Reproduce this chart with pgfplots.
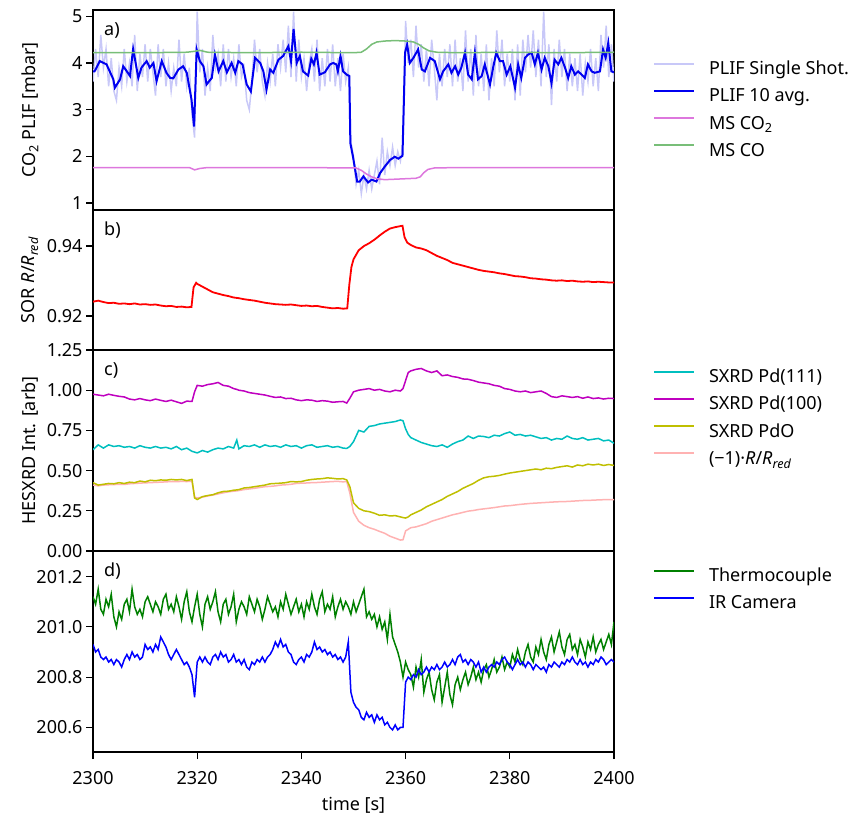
\documentclass[border=0pt]{standalone}
\usepackage{pgfplots}
\pgfplotsset{compat=1.18}
\usepackage{pgfplotstable}
\usepackage{fontspec}
\setmainfont{Noto Sans}
\definecolor{plifss}{RGB}{200,200,248}
\definecolor{plifavg}{RGB}{0,0,240}
\definecolor{msco2}{RGB}{221,119,221}
\definecolor{msco}{RGB}{120,190,120}
\definecolor{sorred}{RGB}{255,0,0}
\definecolor{pdonee}{RGB}{0,191,191}
\definecolor{pdhun}{RGB}{191,0,191}
\definecolor{pdo}{RGB}{191,191,0}
\definecolor{negr}{RGB}{255,178,178}
\definecolor{tc}{RGB}{0,128,0}
\definecolor{ir}{RGB}{0,0,255}

\pgfplotstableread{
t v
2300.0 3.6
2300.5 4.3
2301.0 3.7
2301.5 4.6
2302.0 3.9
2302.5 4.3
2303.0 3.5
2303.5 4.1
2304.0 3.4
2304.5 3.2
2305.0 3.9
2305.5 3.5
2306.0 4.3
2306.5 3.6
2307.0 4.0
2307.5 3.5
2308.0 4.6
2308.5 3.4
2309.0 4.2
2309.5 3.7
2310.0 4.4
2310.5 3.6
2311.0 4.3
2311.5 3.8
2312.0 3.3
2312.5 4.4
2313.0 3.7
2313.5 4.3
2314.0 3.5
2314.5 4.0
2315.0 3.4
2315.5 3.9
2316.0 3.5
2316.5 4.5
2317.0 3.6
2317.5 4.2
2318.0 3.5
2318.5 3.9
2319.0 2.9
2319.5 2.4
2320.0 5.1
2320.5 3.8
2321.0 4.3
2321.5 3.3
2322.0 3.9
2322.5 3.4
2323.0 4.6
2323.5 3.9
2324.0 4.2
2324.5 3.5
2325.0 4.4
2325.5 3.6
2326.0 4.3
2326.5 3.7
2327.0 4.1
2327.5 3.5
2328.0 4.4
2328.5 3.7
2329.0 3.9
2329.5 3.2
2330.0 3.0
2330.5 3.6
2331.0 4.5
2331.5 3.8
2332.0 4.3
2332.5 3.6
2333.0 3.3
2333.5 4.0
2334.0 3.6
2334.5 4.2
2335.0 3.5
2335.5 4.4
2336.0 3.9
2336.5 4.5
2337.0 3.8
2337.5 4.8
2338.0 3.7
2338.5 5.1
2339.0 3.6
2339.5 4.5
2340.0 3.7
2340.5 4.1
2341.0 3.4
2341.5 4.0
2342.0 4.3
2342.5 3.6
2343.0 4.5
2343.5 3.4
2344.0 4.1
2344.5 3.5
2345.0 4.3
2345.5 3.6
2346.0 4.4
2346.5 3.5
2347.0 4.1
2347.5 3.4
2348.0 4.2
2348.5 3.6
2349.0 3.9
2349.5 2.3
2350.0 2.0
2350.5 1.4
2351.0 1.7
2351.5 1.2
2352.0 1.6
2352.5 1.3
2353.0 1.7
2353.5 1.3
2354.0 1.6
2354.5 1.9
2355.0 1.4
2355.5 2.4
2356.0 1.6
2356.5 2.1
2357.0 1.8
2357.5 2.2
2358.0 1.8
2358.5 2.1
2359.0 1.9
2359.5 2.3
2360.0 4.9
2360.5 4.0
2361.0 4.5
2361.5 3.7
2362.0 4.8
2362.5 3.9
2363.0 4.4
2363.5 3.6
2364.0 4.3
2364.5 3.5
2365.0 4.5
2365.5 3.9
2366.0 3.2
2366.5 4.2
2367.0 3.5
2367.5 4.3
2368.0 3.7
2368.5 4.4
2369.0 3.5
2369.5 4.5
2370.0 3.6
2370.5 4.1
2371.0 3.4
2371.5 4.7
2372.0 3.6
2372.5 4.3
2373.0 3.3
2373.5 4.6
2374.0 3.5
2374.5 4.2
2375.0 3.4
2375.5 4.4
2376.0 3.2
2376.5 4.1
2377.0 3.5
2377.5 4.7
2378.0 3.8
2378.5 4.5
2379.0 3.5
2379.5 4.2
2380.0 3.6
2380.5 4.3
2381.0 3.2
2381.5 4.4
2382.0 3.3
2382.5 4.5
2383.0 3.8
2383.5 4.6
2384.0 3.9
2384.5 4.7
2385.0 3.7
2385.5 4.5
2386.0 3.5
2386.5 5.1
2387.0 3.7
2387.5 4.4
2388.0 3.1
2388.5 4.3
2389.0 3.6
2389.5 4.5
2390.0 3.7
2390.5 4.3
2391.0 3.4
2391.5 4.2
2392.0 3.5
2392.5 4.1
2393.0 3.4
2393.5 4.2
2394.0 3.3
2394.5 4.0
2395.0 3.6
2395.5 4.3
2396.0 3.5
2396.5 4.1
2397.0 3.4
2397.5 4.6
2398.0 3.9
2398.5 4.8
2399.0 3.7
2399.5 4.4
2400.0 3.6
}\plifss

\pgfplotstableread{
t v
2300.0 3.82
2300.3 3.82
2301.3 4.04
2302.6 3.97
2303.9 3.65
2304.2 3.47
2305.2 3.65
2305.8 3.93
2306.5 3.82
2307.1 3.72
2307.7 4.30
2308.7 3.68
2309.3 3.90
2310.3 4.04
2310.9 3.90
2311.6 4.00
2312.2 3.61
2313.2 4.04
2314.1 3.79
2314.8 3.68
2315.4 3.67
2316.4 3.86
2317.3 3.93
2318.0 3.79
2318.9 3.22
2319.4 2.64
2319.9 4.29
2320.5 4.04
2321.2 3.93
2321.8 3.54
2322.8 3.68
2323.4 4.18
2324.1 3.82
2325.0 4.04
2325.7 3.80
2326.6 4.00
2327.3 3.79
2327.9 4.04
2328.7 3.97
2329.5 3.54
2330.3 3.39
2331.1 4.11
2332.1 4.00
2332.7 3.82
2333.3 3.43
2334.0 3.86
2334.6 3.79
2335.6 4.07
2336.5 4.15
2337.5 4.36
2338.0 4.04
2338.5 4.73
2339.1 4.00
2339.7 4.15
2340.3 3.82
2341.3 3.73
2341.9 4.09
2342.4 3.97
2342.9 4.22
2343.5 3.75
2344.5 3.80
2345.5 3.97
2346.1 4.00
2346.7 3.97
2347.0 3.82
2347.5 4.15
2348.0 3.82
2348.7 3.75
2349.2 3.72
2349.4 2.28
2349.9 1.99
2350.7 1.46
2351.2 1.46
2351.9 1.57
2352.8 1.44
2353.5 1.50
2354.4 1.46
2355.1 1.64
2356.0 1.78
2357.0 1.92
2357.9 1.99
2358.6 1.95
2359.4 2.01
2359.9 4.22
2360.3 4.40
2360.8 4.00
2361.5 4.11
2362.4 4.29
2363.1 3.86
2363.7 3.82
2364.7 4.11
2365.6 4.04
2366.6 3.65
2367.2 3.82
2368.2 3.97
2368.8 3.79
2369.5 3.93
2370.1 3.75
2370.7 3.90
2371.4 4.22
2372.0 3.75
2372.7 3.65
2373.3 4.22
2373.9 3.65
2374.6 3.72
2375.2 3.97
2376.2 3.54
2376.8 3.90
2377.4 4.22
2378.1 4.04
2378.7 4.04
2379.4 3.75
2380.1 3.93
2381.0 3.47
2381.6 3.97
2382.2 3.68
2382.9 4.11
2383.5 4.18
2384.2 4.22
2384.8 3.97
2385.4 4.22
2386.1 3.86
2386.7 4.11
2387.4 3.93
2388.0 3.57
2388.6 4.07
2389.3 3.97
2389.9 4.11
2390.6 3.90
2391.2 3.68
2391.8 3.93
2392.5 3.75
2393.1 3.82
2393.8 3.75
2394.4 3.68
2395.0 3.97
2395.7 3.82
2396.3 3.79
2397.3 3.82
2397.9 4.29
2398.4 4.11
2398.9 4.43
2399.5 3.82
2400.0 3.80
}\plifavg

\pgfplotstableread{
t v
2300 0.9241
2301 0.9244
2302 0.9240
2303 0.9237
2304 0.9238
2305 0.9235
2306 0.9236
2307 0.9234
2308 0.9236
2309 0.9233
2310 0.9234
2311 0.9232
2312 0.9233
2313 0.9230
2314 0.9228
2315 0.9229
2316 0.9226
2317 0.9227
2318 0.9225
2318.9 0.9226
2319.3 0.9282
2319.8 0.9295
2320 0.9292
2321 0.9284
2322 0.9276
2323 0.9268
2324 0.9264
2325 0.9260
2326 0.9257
2327 0.9253
2328 0.9251
2329 0.9248
2330 0.9246
2331 0.9244
2332 0.9241
2333 0.9238
2334 0.9236
2335 0.9234
2336 0.9233
2337 0.9232
2338 0.9233
2339 0.9231
2340 0.9229
2341 0.9230
2342 0.9228
2343 0.9229
2344 0.9226
2345 0.9224
2346 0.9222
2347 0.9223
2348 0.9221
2348.8 0.9222
2349.2 0.9290
2349.6 0.9340
2350 0.9362
2351 0.9388
2352 0.9400
2353 0.9408
2354 0.9418
2355 0.9430
2356 0.9441
2357 0.9450
2358 0.9454
2359 0.9457
2359.4 0.9458
2359.8 0.9425
2360.3 0.9410
2361 0.9403
2362 0.9396
2363 0.9393
2364 0.9388
2365 0.9380
2366 0.9372
2367 0.9366
2368 0.9360
2369 0.9352
2370 0.9348
2371 0.9344
2372 0.9340
2373 0.9336
2374 0.9332
2375 0.9329
2376 0.9327
2377 0.9325
2378 0.9322
2379 0.9320
2380 0.9317
2381 0.9314
2382 0.9313
2383 0.9311
2384 0.9308
2385 0.9307
2386 0.9305
2387 0.9304
2388 0.9302
2389 0.9301
2390 0.9302
2391 0.9300
2392 0.9301
2393 0.9299
2394 0.9298
2395 0.9299
2396 0.9297
2397 0.9298
2398 0.9297
2399 0.9296
2400 0.9296
}\sor

\pgfplotstableread{
t p111 p100 pdo mr
2300 0.63 0.975 0.425 0.410
2301 0.66 0.970 0.410 0.405
2302 0.64 0.965 0.415 0.410
2303 0.66 0.975 0.420 0.412
2304 0.65 0.968 0.418 0.413
2305 0.655 0.962 0.425 0.415
2306 0.645 0.958 0.420 0.414
2307 0.65 0.945 0.428 0.418
2308 0.64 0.940 0.425 0.420
2309 0.655 0.948 0.435 0.422
2310 0.645 0.940 0.430 0.424
2311 0.64 0.935 0.440 0.425
2312 0.65 0.945 0.437 0.427
2313 0.64 0.937 0.442 0.428
2314 0.645 0.930 0.440 0.430
2315 0.635 0.938 0.445 0.432
2316 0.65 0.928 0.442 0.431
2317 0.63 0.918 0.445 0.433
2318 0.64 0.932 0.438 0.432
2319 0.62 0.930 0.445 0.434
2319.5 0.615 0.990 0.330 0.335
2320 0.61 1.030 0.320 0.330
2321 0.625 1.025 0.338 0.335
2322 0.615 1.035 0.345 0.342
2323 0.63 1.040 0.350 0.348
2324 0.64 1.048 0.362 0.355
2325 0.635 1.030 0.370 0.362
2326 0.65 1.025 0.372 0.368
2327 0.64 1.010 0.378 0.372
2327.6 0.690 1.005 0.380 0.374
2328 0.635 1.000 0.382 0.376
2329 0.655 0.995 0.392 0.382
2330 0.65 0.985 0.395 0.386
2331 0.66 0.980 0.400 0.390
2332 0.645 0.975 0.405 0.395
2333 0.66 0.970 0.410 0.400
2334 0.65 0.962 0.418 0.402
2335 0.655 0.955 0.420 0.405
2336 0.645 0.958 0.422 0.410
2337 0.66 0.948 0.425 0.412
2338 0.65 0.950 0.432 0.415
2339 0.655 0.940 0.430 0.420
2340 0.64 0.935 0.432 0.422
2341 0.655 0.940 0.440 0.423
2342 0.66 0.938 0.445 0.425
2343 0.645 0.930 0.448 0.426
2344 0.65 0.935 0.450 0.428
2345 0.655 0.932 0.455 0.430
2346 0.645 0.925 0.452 0.432
2347 0.65 0.928 0.448 0.433
2348 0.64 0.930 0.450 0.430
2348.7 0.638 0.920 0.442 0.432
2349.3 0.650 0.950 0.400 0.360
2350 0.68 0.990 0.300 0.240
2351 0.75 1.000 0.265 0.185
2352 0.740 1.005 0.250 0.160
2353 0.775 1.010 0.245 0.145
2354 0.780 1.000 0.235 0.135
2355 0.790 1.005 0.222 0.122
2356 0.795 0.995 0.225 0.110
2357 0.800 0.990 0.218 0.092
2358 0.805 1.000 0.220 0.080
2359 0.815 0.995 0.212 0.068
2359.5 0.810 1.010 0.208 0.070
2360 0.760 1.060 0.205 0.125
2360.5 0.725 1.110 0.212 0.135
2361 0.705 1.120 0.225 0.145
2362 0.690 1.130 0.240 0.150
2363 0.675 1.135 0.255 0.160
2364 0.665 1.120 0.275 0.170
2365 0.655 1.110 0.290 0.185
2366 0.650 1.120 0.305 0.195
2367 0.660 1.090 0.320 0.205
2368 0.645 1.095 0.340 0.215
2369 0.665 1.085 0.355 0.225
2370 0.680 1.080 0.370 0.232
2371 0.690 1.070 0.390 0.240
2372 0.715 1.068 0.405 0.248
2373 0.700 1.060 0.420 0.252
2374 0.715 1.050 0.440 0.258
2375 0.712 1.045 0.455 0.262
2376 0.705 1.040 0.462 0.266
2377 0.720 1.030 0.465 0.270
2378 0.715 1.025 0.470 0.275
2379 0.730 1.010 0.478 0.280
2380 0.740 1.005 0.485 0.282
2381 0.720 0.995 0.490 0.286
2382 0.725 0.990 0.495 0.290
2383 0.715 0.995 0.500 0.293
2384 0.720 0.985 0.505 0.296
2385 0.710 0.990 0.510 0.298
2386 0.700 0.995 0.505 0.300
2387 0.705 0.980 0.515 0.302
2388 0.690 0.960 0.512 0.304
2389 0.700 0.955 0.520 0.306
2390 0.695 0.965 0.525 0.307
2391 0.715 0.960 0.530 0.308
2392 0.700 0.955 0.522 0.310
2393 0.695 0.960 0.535 0.312
2394 0.705 0.950 0.530 0.314
2395 0.690 0.958 0.540 0.315
2396 0.695 0.948 0.535 0.316
2397 0.700 0.952 0.540 0.318
2398 0.685 0.945 0.532 0.319
2399 0.690 0.950 0.538 0.320
2400 0.670 0.948 0.532 0.320
}\sxrd

\pgfplotstableread{
t tc ir
2300.0 201.12 200.93
2300.5 201.09 200.90
2301.0 201.15 200.91
2301.5 201.07 200.88
2302.0 201.05 200.87
2302.5 201.11 200.88
2303.0 201.08 200.86
2303.5 201.13 200.87
2304.0 201.04 200.85
2304.5 201.00 200.87
2305.0 201.06 200.86
2305.5 201.03 200.84
2306.0 201.09 200.87
2306.5 201.11 200.89
2307.0 201.06 200.87
2307.5 201.15 200.90
2308.0 201.08 200.88
2308.5 201.05 200.89
2309.0 201.07 200.87
2309.5 201.04 200.88
2310.0 201.10 200.93
2310.5 201.12 200.91
2311.0 201.09 200.92
2311.5 201.06 200.90
2312.0 201.10 200.93
2312.5 201.08 200.91
2313.0 201.05 200.96
2313.5 201.11 200.94
2314.0 201.13 200.92
2314.5 201.07 200.89
2315.0 201.09 200.87
2315.5 201.06 200.89
2316.0 201.12 200.91
2316.5 201.08 200.89
2317.0 201.03 200.87
2317.5 201.10 200.85
2318.0 201.14 200.86
2318.5 201.06 200.84
2319.0 201.02 200.81
2319.5 201.08 200.72
2320.0 201.13 200.86
2320.5 201.05 200.88
2321.0 201.00 200.86
2321.5 201.09 200.88
2322.0 201.12 200.86
2322.5 201.07 200.85
2323.0 201.10 200.88
2323.5 201.14 200.89
2324.0 201.06 200.87
2324.5 201.02 200.90
2325.0 201.09 200.88
2325.5 201.11 200.89
2326.0 201.05 200.86
2326.5 201.08 200.87
2327.0 201.13 200.89
2327.5 201.02 200.86
2328.0 201.07 200.87
2328.5 201.10 200.85
2329.0 201.08 200.87
2329.5 201.05 200.84
2330.0 201.12 200.83
2330.5 201.09 200.86
2331.0 201.06 200.85
2331.5 201.11 200.87
2332.0 201.08 200.86
2332.5 201.03 200.88
2333.0 201.07 200.86
2333.5 201.12 200.88
2334.0 201.09 200.89
2334.5 201.06 200.91
2335.0 201.08 200.94
2335.5 201.04 200.92
2336.0 201.10 200.95
2336.5 201.07 200.92
2337.0 201.13 200.93
2337.5 201.09 200.90
2338.0 201.05 200.89
2338.5 201.08 200.86
2339.0 201.11 200.85
2339.5 201.06 200.87
2340.0 201.09 200.88
2340.5 201.04 200.86
2341.0 201.10 200.89
2341.5 201.07 200.88
2342.0 201.13 200.90
2342.5 201.08 200.94
2343.0 201.05 200.91
2343.5 201.11 200.92
2344.0 201.14 200.90
2344.5 201.06 200.91
2345.0 201.09 200.89
2345.5 201.07 200.90
2346.0 201.12 200.88
2346.5 201.04 200.89
2347.0 201.08 200.87
2347.5 201.11 200.88
2348.0 201.07 200.86
2348.5 201.10 200.88
2349.0 201.08 200.94
2349.5 201.05 200.74
2350.0 201.10 200.70
2350.5 201.06 200.68
2351.0 201.09 200.67
2351.5 201.12 200.64
2352.0 201.15 200.63
2352.5 201.04 200.66
2353.0 201.06 200.64
2353.5 201.03 200.65
2354.0 201.05 200.62
2354.5 201.00 200.65
2355.0 201.04 200.63
2355.5 200.99 200.64
2356.0 201.02 200.61
2356.5 200.95 200.62
2357.0 201.05 200.60
2357.5 200.96 200.59
2358.0 200.93 200.61
2358.5 200.90 200.59
2359.0 200.86 200.60
2359.5 200.80 200.60
2360.0 200.86 200.78
2360.5 200.83 200.80
2361.0 200.81 200.79
2361.5 200.76 200.81
2362.0 200.84 200.80
2362.5 200.80 200.83
2363.0 200.87 200.81
2363.5 200.74 200.82
2364.0 200.79 200.84
2364.5 200.82 200.82
2365.0 200.75 200.84
2365.5 200.71 200.83
2366.0 200.78 200.85
2366.5 200.81 200.83
2367.0 200.70 200.84
2367.5 200.76 200.86
2368.0 200.82 200.84
2368.5 200.73 200.85
2369.0 200.69 200.87
2369.5 200.77 200.85
2370.0 200.80 200.88
2370.5 200.75 200.89
2371.0 200.79 200.86
2371.5 200.82 200.87
2372.0 200.77 200.85
2372.5 200.80 200.87
2373.0 200.84 200.86
2373.5 200.79 200.84
2374.0 200.82 200.86
2374.5 200.78 200.82
2375.0 200.83 200.84
2375.5 200.85 200.82
2376.0 200.80 200.84
2376.5 200.83 200.85
2377.0 200.87 200.84
2377.5 200.82 200.86
2378.0 200.84 200.85
2378.5 200.88 200.87
2379.0 200.83 200.88
2379.5 200.86 200.86
2380.0 200.84 200.85
2380.5 200.89 200.83
2381.0 200.86 200.85
2381.5 200.91 200.87
2382.0 200.87 200.85
2382.5 200.85 200.86
2383.0 200.90 200.84
2383.5 200.93 200.86
2384.0 200.88 200.85
2384.5 200.86 200.83
2385.0 200.92 200.85
2385.5 200.89 200.84
2386.0 200.95 200.83
2386.5 200.90 200.84
2387.0 200.87 200.82
2387.5 200.93 200.85
2388.0 200.96 200.84
2388.5 200.90 200.86
2389.0 200.94 200.85
2389.5 200.98 200.84
2390.0 200.92 200.86
2390.5 200.89 200.85
2391.0 200.95 200.87
2391.5 200.97 200.86
2392.0 200.91 200.88
2392.5 200.93 200.86
2393.0 200.89 200.85
2393.5 200.95 200.87
2394.0 200.92 200.85
2394.5 200.88 200.86
2395.0 200.94 200.84
2395.5 200.91 200.86
2396.0 200.96 200.85
2396.5 200.90 200.87
2397.0 200.93 200.86
2397.5 200.95 200.88
2398.0 200.91 200.87
2398.5 200.94 200.85
2399.0 200.97 200.86
2399.5 200.93 200.87
2400.0 201.02 200.86
}\temps

\newcommand{\fs}{\fontsize{18}{22}\selectfont}

\tikzset{plab/.style={anchor=west, inner sep=0pt, font=\fs, xshift=11pt, yshift=-20pt}}

\pgfplotsset{
  panel/.style={
    scale only axis, width=521pt, xmin=2300, xmax=2400,
    axis line style={line width=1.6pt},
    tick align=outside, ytick pos=left, xtick pos=bottom,
    major tick length=7pt,
    major tick style={line width=1.2pt, black},
    scaled ticks=false,
    /pgf/number format/1000 sep={},
    /pgf/number format/assume math mode=true,
    tick label style={font=\fs},
    label style={font=\fs},
    ylabel style={at={(axis description cs:-0.121,0.5)}, anchor=center},
    legend cell align=left,
    legend image code/.code={\draw[##1,line width=2pt] (0pt,6.5pt) -- (40pt,6.5pt);},
    legend style={draw=none, fill=none, inner sep=0pt, outer sep=0pt,
      at={(1,1)}, anchor=north west, xshift=39pt,
      row sep=10.3pt, font=\fs,
      nodes={inner sep=0pt, text height=13pt, text depth=4pt},
      /tikz/every odd column/.append style={column sep=14pt}},
  },
}

\begin{document}
\begin{tikzpicture}
\useasboundingbox (0pt,0pt) rectangle (851pt,-816pt);

% panel a
\begin{axis}[panel, at={(93pt,-10pt)}, anchor=north west, height=200pt,
  ymin=0.85, ymax=5.135, ytick={1,2,3,4,5}, xtick=\empty,
  ylabel={CO\textsubscript{2} PLIF [mbar]},
  legend style={yshift=-51.5pt}]
\addplot[plifss, line width=1.5pt] table[x=t,y=v] {\plifss};
\addlegendentry{PLIF Single Shot.}
\addplot[plifavg, line width=2pt] table[x=t,y=v] {\plifavg};
\addlegendentry{PLIF 10 avg.}
\addplot[msco2, line width=1.5pt] coordinates {
(2300,1.76) (2310,1.76) (2318.5,1.76) (2319.5,1.71) (2320.5,1.74) (2322,1.76)
(2340,1.76) (2350.5,1.75) (2351.5,1.70) (2352.5,1.62) (2353.5,1.56) (2354.5,1.52)
(2356,1.50) (2358,1.51) (2360,1.52) (2362,1.53) (2362.8,1.56) (2363.5,1.65)
(2364.3,1.72) (2365.5,1.75) (2370,1.76) (2385,1.76) (2400,1.76)};
\addlegendentry{MS CO\textsubscript{2}}
\addplot[msco, line width=1.5pt] coordinates {
(2300,4.22) (2310,4.22) (2318,4.23) (2319.5,4.25) (2320.5,4.27) (2322,4.23)
(2330,4.22) (2340,4.23) (2350,4.22) (2351.5,4.23) (2352.5,4.30) (2353.5,4.40)
(2354.5,4.45) (2356,4.47) (2358,4.48) (2360,4.47) (2361.5,4.45) (2362.5,4.40)
(2363.5,4.32) (2364.5,4.26) (2366,4.23) (2370,4.22) (2380,4.23) (2390,4.22) (2400,4.23)};
\addlegendentry{MS CO}
\node[plab] at (rel axis cs:0,1) {a)};
\end{axis}

% panel b
\begin{axis}[panel, at={(93pt,-210pt)}, anchor=north west, height=140pt,
  ymin=0.9103, ymax=0.9503, ytick={0.92,0.94}, xtick=\empty,
  yticklabel style={/pgf/number format/.cd, fixed, fixed zerofill, precision=2},
  ylabel={SOR \textit{R}/\textit{R}\textsubscript{\textit{red}}}]
\addplot[sorred, line width=1.8pt] table[x=t,y=v] {\sor};
\node[plab] at (rel axis cs:0,1) {b)};
\end{axis}

% panel c
\begin{axis}[panel, at={(93pt,-350pt)}, anchor=north west, height=201pt,
  ymin=0, ymax=1.25, ytick={0,0.25,0.5,0.75,1,1.25}, xtick=\empty,
  yticklabel style={/pgf/number format/.cd, fixed, fixed zerofill, precision=2},
  ylabel={HESXRD Int. [arb]},
  legend style={yshift=-19.5pt}]
\addplot[negr, line width=1.5pt, forget plot] table[x=t,y=mr] {\sxrd};
\addplot[pdonee, line width=1.5pt] table[x=t,y=p111] {\sxrd};
\addlegendentry{SXRD Pd(111)}
\addplot[pdhun, line width=1.5pt] table[x=t,y=p100] {\sxrd};
\addlegendentry{SXRD Pd(100)}
\addplot[pdo, line width=1.5pt] table[x=t,y=pdo] {\sxrd};
\addlegendentry{SXRD PdO}
\addlegendimage{negr}
\addlegendentry{(−1)·\textit{R}/\textit{R}\textsubscript{\textit{red}}}
\node[plab] at (rel axis cs:0,1) {c)};
\end{axis}

% panel d
\begin{axis}[panel, at={(93pt,-551pt)}, anchor=north west, height=201pt,
  ymin=200.502, ymax=201.302, ytick={200.6,200.8,201.0,201.2},
  xtick={2300,2320,2340,2360,2380,2400},
  xticklabel style={yshift=-9pt},
  yticklabel style={/pgf/number format/.cd, fixed, fixed zerofill, precision=1},
  xlabel={time [s]},
  xlabel style={at={(axis description cs:0.5,0)}, anchor=center, yshift=-53pt},
  legend style={yshift=-17.5pt}]
\addplot[tc, line width=1.5pt] table[x=t,y=tc] {\temps};
\addlegendentry{Thermocouple}
\addplot[ir, line width=1.5pt] table[x=t,y=ir] {\temps};
\addlegendentry{IR Camera}
\node[plab] at (rel axis cs:0,1) {d)};
\end{axis}
\end{tikzpicture}
\end{document}
